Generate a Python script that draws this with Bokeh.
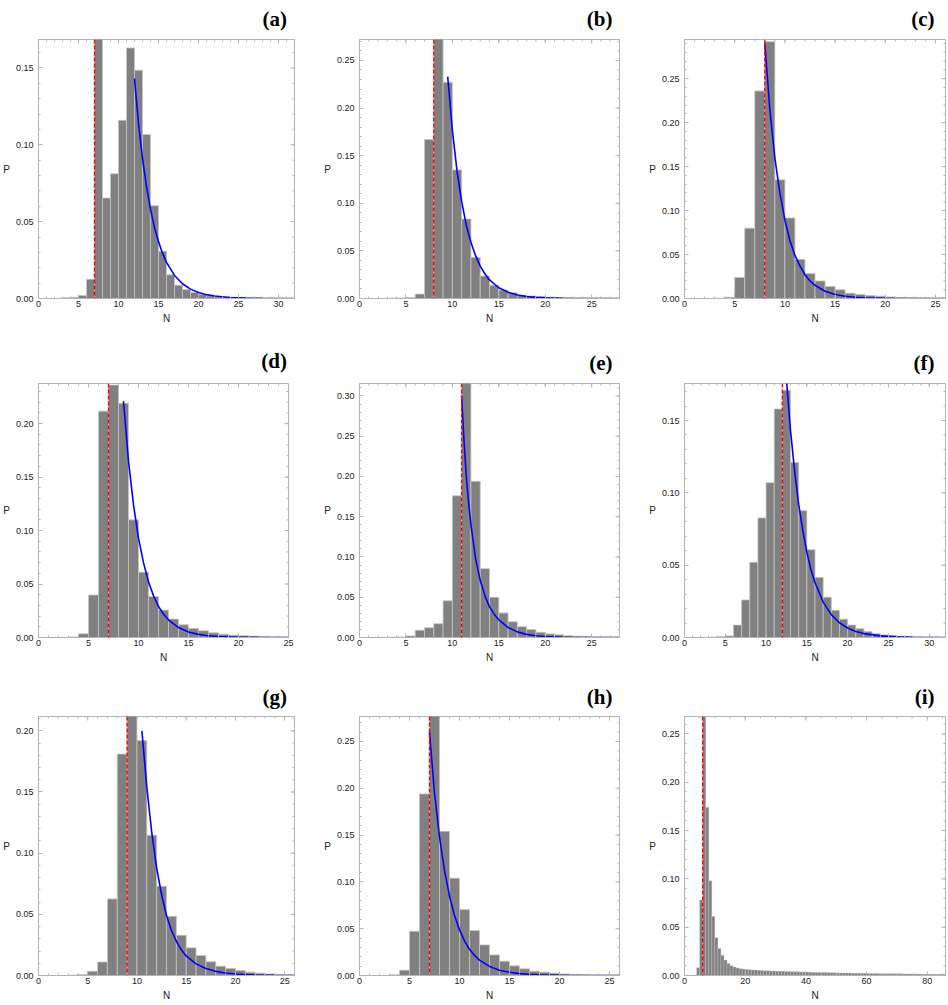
from bokeh.plotting import figure
from bokeh.layouts import column, row
from bokeh.models import Range1d, LinearAxis, FixedTicker, PrintfTickFormatter, Title, Span
from bokeh.embed import file_html
from bokeh.resources import INLINE
import numpy as np

# ---------------- data ----------------
panel_letters = ["a", "b", "c", "d", "e", "f", "g", "h", "i"]

# histogram: first bin start (bins are [k, k+1)) and probabilities
a_bin0 = 3
a_vals = [0.0005, 0.0008, 0.002, 0.0126, 0.175, 0.0654, 0.0811, 0.1159, 0.163, 0.1485, 0.1067, 0.0604,
          0.0307, 0.0154, 0.0087, 0.0059, 0.0039, 0.0026, 0.0017, 0.0011, 0.0007, 0.0005, 0.0003, 0.0002,
          0.00015, 0.0001, 0.0001, 0.00005]
b_bin0 = 3
b_vals = [0.0003, 0.0005, 0.001, 0.0046, 0.167, 0.28, 0.227, 0.135, 0.0835, 0.0431, 0.0235, 0.014,
          0.0088, 0.006, 0.0035, 0.0027, 0.002, 0.0014, 0.001, 0.0007, 0.0005, 0.0003, 0.0002, 0.00015, 0.0001]
c_bin0 = 3
c_vals = [0.0002, 0.0015, 0.024, 0.080, 0.236, 0.292, 0.135, 0.0916, 0.0445, 0.0285, 0.020, 0.0137,
          0.0099, 0.0061, 0.0046, 0.0034, 0.0027, 0.0018, 0.0012, 0.0008, 0.0005, 0.0004, 0.0003]
d_bin0 = 3
d_vals = [0.0005, 0.0034, 0.0397, 0.2116, 0.236, 0.219, 0.11, 0.061, 0.0384, 0.0256, 0.0172, 0.0119,
          0.0084, 0.0063, 0.0044, 0.0031, 0.0022, 0.0016, 0.0011, 0.0008, 0.0005, 0.0004]
e_bin0 = 3
e_vals = [0.0003, 0.0006, 0.002, 0.009, 0.0122, 0.0171, 0.0456, 0.176, 0.33, 0.194, 0.0855, 0.050,
          0.0305, 0.0195, 0.0134, 0.0098, 0.0065, 0.0045, 0.0033, 0.0022, 0.0015, 0.0011, 0.0007, 0.0005, 0.0003]
f_bin0 = 3
f_vals = [0.0003, 0.0005, 0.0011, 0.0086, 0.026, 0.052, 0.0827, 0.107, 0.158, 0.171, 0.121, 0.0877,
          0.0607, 0.0415, 0.0279, 0.0188, 0.0127, 0.0086, 0.0061, 0.0041, 0.0027, 0.0018, 0.0014, 0.0009,
          0.0006, 0.0004, 0.0003, 0.0002, 0.0001]
g_bin0 = 3
g_vals = [0.0003, 0.0008, 0.0035, 0.011, 0.0626, 0.181, 0.215, 0.192, 0.1146, 0.0729, 0.0484, 0.0329,
          0.0226, 0.0163, 0.0112, 0.0076, 0.0057, 0.0041, 0.0027, 0.0019, 0.0013, 0.0009, 0.0006]
h_bin0 = 3
h_vals = [0.0007, 0.0057, 0.0473, 0.194, 0.285, 0.154, 0.104, 0.0704, 0.048, 0.0327, 0.022, 0.0153,
          0.0103, 0.0071, 0.0046, 0.0036, 0.0025, 0.0017, 0.0012, 0.0008, 0.0006, 0.0004, 0.0003]
i_bin0 = 3
i_vals = [0.0005, 0.008, 0.078, 0.268, 0.174, 0.098, 0.061, 0.039, 0.028, 0.021, 0.016, 0.0125, 0.0102,
          0.0088, 0.0078, 0.0071, 0.0066, 0.0062,
          0.0060, 0.0058, 0.0056, 0.0054, 0.0052, 0.0050, 0.0049, 0.0047, 0.0046, 0.0045,
          0.0044, 0.0043, 0.0042, 0.0041, 0.0040, 0.0039, 0.0038, 0.0037, 0.0036, 0.0035,
          0.0034, 0.0033, 0.0032, 0.0032, 0.0031, 0.0030, 0.0029, 0.0029, 0.0028, 0.0027,
          0.0027, 0.0026, 0.0025, 0.0025, 0.0024, 0.0024, 0.0023, 0.0022, 0.0022, 0.0021,
          0.0021, 0.0020, 0.0020, 0.0019, 0.0019, 0.0019, 0.0018, 0.0018, 0.0017, 0.0017,
          0.0017, 0.0016, 0.0016, 0.0016, 0.0015, 0.0015, 0.0015, 0.0014, 0.0014, 0.0014,
          0.0014, 0.0013, 0.0013, 0.0013, 0.0012]

# fitted tail curves (blue)
a_fx = [12, 12.5, 13, 13.5, 14, 14.5, 15, 15.5, 16, 17, 18, 19, 20, 21, 22, 24, 26, 28, 32]
a_fy = [0.143, 0.114, 0.091, 0.073, 0.058, 0.046, 0.037, 0.0295, 0.0235, 0.015, 0.0096, 0.0061, 0.0039,
        0.0025, 0.0016, 0.00065, 0.00026, 0.0001, 0.00002]
b_fx = [9.5, 10, 10.5, 11, 11.5, 12, 12.5, 13, 13.5, 14, 15, 16, 17, 18, 19, 20, 22, 25, 28]
b_fy = [0.233, 0.177, 0.134, 0.102, 0.077, 0.059, 0.045, 0.034, 0.026, 0.0195, 0.0113, 0.0065, 0.0037,
        0.0021, 0.0012, 0.0007, 0.00023, 0.00004, 0.00001]
c_fx = [8, 8.5, 9, 9.5, 10, 10.5, 11, 11.5, 12, 12.5, 13, 14, 15, 16, 17, 18, 20, 22, 26]
c_fy = [0.29, 0.215, 0.16, 0.12, 0.089, 0.066, 0.049, 0.037, 0.027, 0.020, 0.015, 0.0082, 0.0045, 0.0025,
        0.0014, 0.0008, 0.00023, 0.00007, 0.00001]
d_fx = [8.5, 9, 9.5, 10, 10.5, 11, 11.5, 12, 12.5, 13, 14, 15, 16, 17, 18, 20, 22, 25]
d_fy = [0.221, 0.165, 0.124, 0.093, 0.07, 0.052, 0.039, 0.029, 0.022, 0.0165, 0.0093, 0.0052, 0.0029,
        0.0016, 0.0009, 0.0003, 0.0001, 0.00002]
e_fx = [11, 11.25, 11.5, 11.75, 12, 12.5, 13, 13.5, 14, 14.5, 15, 16, 17, 18, 19, 20, 22, 25, 28]
e_fy = [0.30, 0.245, 0.20, 0.167, 0.14, 0.098, 0.071, 0.052, 0.038, 0.029, 0.022, 0.0125, 0.007, 0.0039,
        0.0022, 0.0012, 0.0004, 0.00007, 0.00001]
f_fx = [12.5, 13, 13.5, 14, 14.5, 15, 15.5, 16, 17, 18, 19, 20, 21, 22, 24, 26, 28, 32]
f_fy = [0.178, 0.143, 0.115, 0.092, 0.074, 0.059, 0.047, 0.038, 0.0245, 0.0158, 0.0102, 0.0066, 0.0042,
        0.0027, 0.0011, 0.00046, 0.00019, 0.00003]
g_fx = [10.5, 11, 11.5, 12, 12.5, 13, 13.5, 14, 14.5, 15, 16, 17, 18, 19, 20, 22, 24, 26]
g_fy = [0.20, 0.154, 0.117, 0.088, 0.066, 0.049, 0.037, 0.028, 0.021, 0.016, 0.0095, 0.0057, 0.0034,
        0.002, 0.0012, 0.00045, 0.00016, 0.00006]
h_fx = [7, 7.5, 8, 8.5, 9, 9.5, 10, 10.5, 11, 11.5, 12, 13, 14, 15, 16, 17, 18, 20, 23, 26]
h_fy = [0.26, 0.195, 0.148, 0.112, 0.085, 0.064, 0.049, 0.037, 0.028, 0.0215, 0.0165, 0.0097, 0.0057,
        0.0034, 0.002, 0.0012, 0.0007, 0.00025, 0.00005, 0.00001]
i_fx = []
i_fy = []

# red dashed reference positions
red_x = [7, 8, 8, 7, 11, 12, 9, 7, 6]

# axis ranges
x_max = [32, 28, 26, 25, 28, 32, 26, 26, 86]
y_max = [0.1685, 0.272, 0.2945, 0.2375, 0.3155, 0.1756, 0.2117, 0.2767, 0.268]
x_major_step = [5, 5, 5, 5, 5, 5, 5, 5, 20]
x_minor_step = [1, 1, 1, 1, 1, 1, 1, 1, 5]

hist = [(a_bin0, a_vals), (b_bin0, b_vals), (c_bin0, c_vals), (d_bin0, d_vals), (e_bin0, e_vals),
        (f_bin0, f_vals), (g_bin0, g_vals), (h_bin0, h_vals), (i_bin0, i_vals)]
fits = [(a_fx, a_fy), (b_fx, b_fy), (c_fx, c_fy), (d_fx, d_fy), (e_fx, e_fy), (f_fx, f_fy),
        (g_fx, g_fy), (h_fx, h_fy), (i_fx, i_fy)]

# ---------------- layout geometry ----------------
CELL_W = 316
ROW_H = [339, 339, 327]
B_LEFT = [34, 43, 52]
B_RIGHT = [[22, 13, 3], [28, 13, 3], [22, 13, 3]]
B_TOP = [[39, 39, 39], [44, 39, 39], [38, 38, 38]]
B_BOT = [41, 41, 30]
LABEL_RIGHT = [286.5, 296, 302]   # right edge of "(x)" inside its cell

FRAME = "#b4b4b4"
SANS = "Liberation Sans"


def make_panel(k):
    r, c = divmod(k, 3)
    bin0, vals = hist[k]
    fx, fy = fits[k]
    xm, ym = x_max[k], y_max[k]
    p = figure(width=CELL_W, height=ROW_H[r],
               x_range=Range1d(0, xm), y_range=Range1d(0, ym),
               output_backend="svg", toolbar_location=None,
               min_border_left=B_LEFT[c], min_border_right=B_RIGHT[r][c],
               min_border_top=B_TOP[r][c], min_border_bottom=B_BOT[r])
    p.xgrid.visible = False
    p.ygrid.visible = False
    p.outline_line_color = FRAME
    p.background_fill_color = "white"
    p.border_fill_color = "white"

    lefts = np.arange(bin0, bin0 + len(vals))
    p.quad(left=lefts, right=lefts + 1, bottom=0, top=vals,
           fill_color="#808080", line_color="#c4c4c4",
           line_width=0.8 if k < 8 else 0.4)

    p.add_layout(Span(location=red_x[k], dimension="height", line_color="#ff0000",
                      line_dash="4 2", line_width=1.4))
    if len(fx):
        p.line(fx, fy, line_color="#0000ff", line_width=1.6)

    xt = list(np.arange(0, xm + 0.01, x_major_step[k]))
    xmin_t = list(np.arange(0, xm + 0.01, x_minor_step[k]))
    yt = [round(v, 2) for v in np.arange(0, ym + 1e-9, 0.05)]
    ymin_t = [round(v, 3) for v in np.arange(0, ym + 1e-9, 0.01)]

    def style(ax):
        ax.axis_line_color = FRAME
        ax.major_tick_line_color = FRAME
        ax.minor_tick_line_color = FRAME
        ax.major_tick_in = 4
        ax.major_tick_out = 0
        ax.minor_tick_in = 2
        ax.minor_tick_out = 0

    xa = p.xaxis[0]
    xa.ticker = FixedTicker(ticks=xt, minor_ticks=xmin_t)
    style(xa)
    xa.major_label_text_font = SANS
    xa.major_label_text_font_size = "9px"
    xa.major_label_text_color = "#222222"
    xa.major_label_standoff = 2
    xa.axis_label = "N"
    xa.axis_label_text_font = SANS
    xa.axis_label_text_font_size = "10px"
    xa.axis_label_text_font_style = "normal"
    xa.axis_label_text_color = "#222222"
    xa.axis_label_standoff = 3

    ya = p.yaxis[0]
    ya.ticker = FixedTicker(ticks=yt, minor_ticks=ymin_t)
    ya.formatter = PrintfTickFormatter(format="%.2f")
    style(ya)
    ya.major_label_text_font = SANS
    ya.major_label_text_font_size = "9px"
    ya.major_label_text_color = "#222222"
    ya.major_label_standoff = 5
    ya.axis_label = "P"
    ya.axis_label_text_font = SANS
    ya.axis_label_text_font_size = "10px"
    ya.axis_label_text_font_style = "normal"
    ya.axis_label_text_color = "#222222"
    ya.axis_label_standoff = 3
    if "axis_label_orientation" in LinearAxis.properties():
        ya.axis_label_orientation = "horizontal"

    # inward tick marks on the top and right frame edges (clipped markers of the tick positions)
    p.scatter(xt, [ym] * len(xt), marker="dash", size=8, angle=np.pi / 2,
              line_color=FRAME, line_width=1)
    p.scatter(xmin_t, [ym] * len(xmin_t), marker="dash", size=4, angle=np.pi / 2,
              line_color=FRAME, line_width=1)
    p.scatter([xm] * len(yt), yt, marker="dash", size=8, line_color=FRAME, line_width=1)
    p.scatter([xm] * len(ymin_t), ymin_t, marker="dash", size=4, line_color=FRAME, line_width=1)

    # panel letter
    frame_right = CELL_W - B_RIGHT[r][c]
    p.title.text = ""
    p.add_layout(Title(text="(" + panel_letters[k] + ")", align="right",
                       offset=frame_right - LABEL_RIGHT[c],
                       vertical_align="top", standoff=B_TOP[r][c] - 26,
                       text_font="Liberation Serif", text_font_style="bold",
                       text_font_size="21px", text_color="black"), "above")
    return p


panels = [make_panel(k) for k in range(9)]
layout = column(row(*panels[0:3]), row(*panels[3:6]), row(*panels[6:9]))

open("out.html", "w").write(file_html(layout, INLINE))
